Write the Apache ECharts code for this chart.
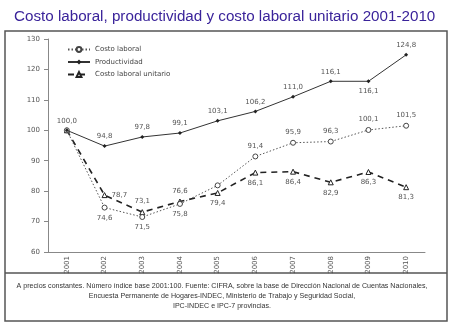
<!DOCTYPE html>
<html><head><meta charset="utf-8">
<script src="https://cdn.jsdelivr.net/npm/echarts@6/dist/echarts.min.js"></script>
<style>html,body{margin:0;padding:0;background:#fff}#c{width:451px;height:324px}</style>
</head><body><div id="c"></div>
<script>
var years = ['2001','2002','2003','2004','2005','2006','2007','2008','2009','2010'];
var costoLaboral = [100.0, 74.6, 71.5, 75.8, 81.9, 91.4, 95.9, 96.3, 100.1, 101.5];
var productividad = [100.0, 94.8, 97.8, 99.1, 103.1, 106.2, 111.0, 116.1, 116.1, 124.8];
var costoUnitario = [100.0, 78.7, 73.1, 76.6, 79.4, 86.1, 86.4, 82.9, 86.3, 81.3];
var yTicks = [60, 70, 80, 90, 100, 110, 120, 130];
var footLines = [
  'A precios constantes. Número índice base 2001:100. Fuente: CIFRA, sobre la base de Dirección Nacional de Cuentas Nacionales,',
  'Encuesta Permanente de Hogares-INDEC, Ministerio de Trabajo y Seguridad Social,',
  'IPC-INDEC e IPC-7 provincias.'
];

var clPos = [null,'bottom','bottom','bottom',null,'top','top','top','top','top'];
var prPos = ['top','top','top','top','top','top','top','top','bottom','top'];
var cuPos = [null,'right','top','top','bottom','bottom','bottom','bottom','bottom','bottom'];

function fmt(v){ return v.toFixed(1).replace('.', ','); }
function mk(values, pos){
  return values.map(function(v,i){
    var d = {value: v};
    if (pos[i]) { d.label = {show:true, position: pos[i]}; } else { d.label = {show:false}; }
    return d;
  });
}
var lblStyle = {fontSize: 7, color: '#555', fontFamily: 'DejaVu Sans', distance: 4,
  formatter: function(p){ return fmt(p.value); }};

var graphics = [
  {type: 'rect', shape: {x: 5, y: 31, width: 442, height: 290}, style: {fill: 'none', stroke: '#555', lineWidth: 1.5}, z: 10},
  {type: 'line', shape: {x1: 5, y1: 273, x2: 447, y2: 273}, style: {stroke: '#555', lineWidth: 1.5}, z: 10}
];
footLines.forEach(function(t, i){
  graphics.push({type: 'text', x: 222, y: 283 + i * 10, style: {text: t, fontSize: 7.1, fontFamily: 'Liberation Sans', fill: '#333', align: 'center', verticalAlign: 'top'}});
});

var chart = echarts.init(document.getElementById('c'));
chart.setOption({
  animation: false,
  title: {text: 'Costo laboral, productividad y costo laboral unitario 2001-2010', left: 9, top: 4,
    textStyle: {fontFamily: 'Liberation Sans', fontSize: 15.2, fontWeight: 'normal', color: '#3A239A'}},
  graphic: graphics,
  legend: {orient: 'vertical', left: 62, top: 41, itemWidth: 22, itemHeight: 6, itemGap: 5.5,
    textStyle: {fontSize: 7, color: '#444', fontFamily: 'DejaVu Sans'},
    data: ['Costo laboral', 'Productividad', 'Costo laboral unitario']},
  grid: {left: 48, right: 26, top: 39, bottom: 72},
  xAxis: {type: 'category', data: years, boundaryGap: true,
    axisLine: {lineStyle: {color: '#888'}}, axisTick: {lineStyle: {color: '#888'}, length: 4},
    axisLabel: {rotate: 90, fontSize: 7, color: '#555', fontFamily: 'DejaVu Sans', margin: 4}},
  yAxis: {type: 'value', min: 60, max: 130, interval: 10,
    axisLine: {show: true, lineStyle: {color: '#888'}}, axisTick: {show: true, lineStyle: {color: '#888'}, length: 4},
    splitLine: {show: false},
    axisLabel: {fontSize: 7, color: '#555', fontFamily: 'DejaVu Sans', margin: 8,
      formatter: function(v){ return yTicks.indexOf(v) >= 0 ? String(v) : ''; }}},
  series: [
    {name: 'Costo laboral', type: 'line', data: mk(costoLaboral, clPos), symbol: 'circle', symbolSize: 5,
      itemStyle: {color: '#fff', borderColor: '#444', borderWidth: 1},
      lineStyle: {color: '#555', width: 1, type: [1.5, 2]}, label: lblStyle, z: 3},
    {name: 'Productividad', type: 'line', data: mk(productividad, prPos), symbol: 'diamond', symbolSize: 4,
      itemStyle: {color: '#222'}, lineStyle: {color: '#333', width: 1}, label: lblStyle, z: 4},
    {name: 'Costo laboral unitario', type: 'line', data: mk(costoUnitario, cuPos), symbol: 'triangle', symbolSize: 5,
      itemStyle: {color: '#fff', borderColor: '#222', borderWidth: 1},
      lineStyle: {color: '#222', width: 1.6, type: [6, 5]}, label: lblStyle, z: 2}
  ]
});
</script></body></html>
